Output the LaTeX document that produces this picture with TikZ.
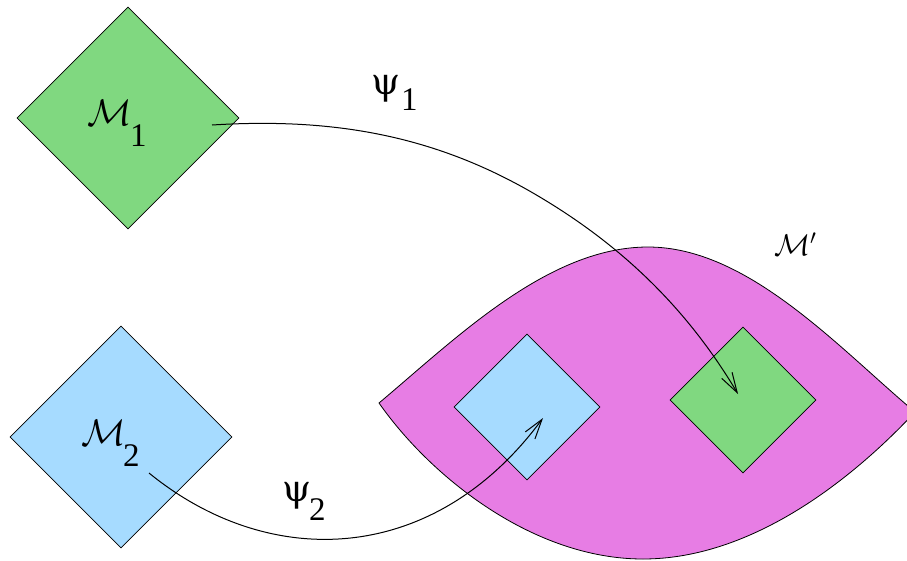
\RequirePackage{fix-cm}
\documentclass[tikz,border=0pt]{standalone}
\usepackage{fontspec}
\newfontfamily\numfont{Liberation Serif}
\newfontfamily\grkfont{DejaVu Serif}
\usetikzlibrary{shapes.geometric,arrows.meta}
\definecolor{mgreen}{RGB}{128,216,128}
\definecolor{mblue}{RGB}{166,219,255}
\definecolor{mmag}{RGB}{231,125,228}
\newcommand{\calbig}{\fontsize{37}{42}\selectfont}
\newcommand{\calmid}{\fontsize{30}{34}\selectfont}
\newcommand{\numbig}{\numfont\fontsize{33}{36}\selectfont}
\newcommand{\psibig}{\grkfont\fontsize{37}{40}\selectfont}
\begin{document}
\begin{tikzpicture}[x=1pt,y=-1pt,
  dia/.style={shape=diamond,aspect=1,inner sep=0pt,draw=black,line width=0.8pt},
  bigdia/.style={dia,minimum width=222pt,minimum height=222pt},
  smalldia/.style={dia,minimum width=146pt,minimum height=146pt},
  lens/.style={fill=mmag,draw=black,line width=0.8pt,line join=round},
  conn/.style={draw=black,line width=1pt,-{Straight Barb[length=20pt,width=12pt,line width=1pt]}},
  lab/.style={inner sep=0pt,anchor=base west}]
\clip (0,0) rectangle (907,560);
% large manifolds
\node[bigdia,fill=mgreen] (m1) at (128,118) {};
\node[bigdia,fill=mblue] (m2) at (121,437) {};
% target region
\path[lens] (379,403) .. controls (455.6,338.7) and (548,247) .. (648,247)
  .. controls (748,247) and (838.4,347.7) .. (915,412)
  .. controls (853.6,477.8) and (753,559) .. (643,559)
  .. controls (533,559) and (430.6,476.7) .. cycle;
\node[smalldia,fill=mblue] (i2) at (527,407) {};
\node[smalldia,fill=mgreen] (i1) at (743,400) {};
% connector ends
\coordinate (s1) at (212,125);
\coordinate (t1) at (738,394);
\coordinate (s2) at (149,473);
\coordinate (t2) at (543,418);
\draw[conn] (s1) .. controls (332,117.5) and (433,135) .. (533,193)
  .. controls (613,239.4) and (683,301.5) .. (t1);
\draw[conn] (s2) .. controls (270.5,572) and (434.5,565) .. (t2);
% labels
\node[lab] (l1) at (87,125) {\calbig\rlap{$\mathcal{M}$}\hspace{43pt}\raisebox{-21pt}{\numbig 1}};
\node[lab] (l2) at (81,445) {\calbig\rlap{$\mathcal{M}$}\hspace{42pt}\raisebox{-21pt}{\numbig 2}};
\node[lab] (lp) at (774,255) {\calmid\rlap{$\mathcal{M}$}\hspace{36pt}${}^{\prime}$};
\node[lab] (p1) at (371,94) {\psibig\rlap{ψ}\hspace{30pt}\raisebox{-16pt}{\numbig 1}};
\node[lab] (p2) at (282,501) {\psibig\rlap{ψ}\hspace{27pt}\raisebox{-19pt}{\numbig 2}};
\end{tikzpicture}
\end{document}
